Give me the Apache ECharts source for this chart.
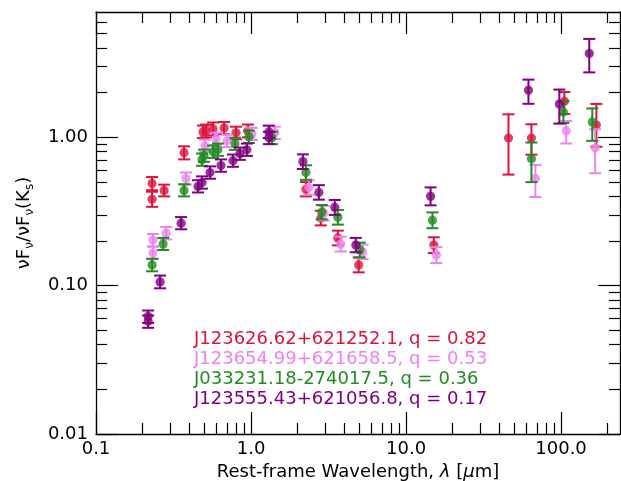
<!DOCTYPE html>
<html>
<head>
<meta charset="utf-8">
<script src="https://cdn.jsdelivr.net/npm/echarts@6/dist/echarts.min.js"></script>
<style>
  html, body { margin: 0; padding: 0; background: #fff; }
  #chart { width: 621px; height: 481px; }
</style>
</head>
<body>
<div id="chart"></div>
<script>
// Rest-frame SEDs normalised to Ks, four sources (wavelength in micron).
const crimsonLam = [0.23, 0.23, 0.275, 0.37, 0.49, 0.513, 0.569, 0.67, 0.80, 0.955, 2.26, 2.82, 3.63, 4.95, 15.1, 45.8, 64.4, 105, 169];
const crimsonVal = [0.489, 0.382, 0.439, 0.788, 1.088, 1.105, 1.14, 1.157, 1.072, 1.105, 0.446, 0.285, 0.21, 0.138, 0.188, 0.99, 0.99, 1.75, 1.21];
const crimsonLo  = [0.44, 0.34, 0.40, 0.71, 0.99, 1.00, 1.03, 1.05, 0.97, 1.00, 0.40, 0.255, 0.187, 0.123, 0.166, 0.561, 0.764, 1.436, 0.864];
const crimsonHi  = [0.54, 0.43, 0.48, 0.87, 1.20, 1.22, 1.26, 1.27, 1.18, 1.22, 0.50, 0.32, 0.235, 0.155, 0.212, 1.43, 1.225, 2.02, 1.68];

const violetLam = [0.233, 0.233, 0.2835, 0.381, 0.505, 0.594, 0.70, 1.013, 1.425, 2.36, 2.95, 3.79, 5.25, 15.7, 68.3, 108, 166];
const violetVal = [0.203, 0.166, 0.226, 0.528, 0.877, 0.977, 0.947, 1.055, 1.072, 0.459, 0.308, 0.191, 0.169, 0.161, 0.528, 1.105, 0.851];
const violetLo  = [0.184, 0.151, 0.205, 0.48, 0.80, 0.89, 0.86, 0.96, 0.975, 0.41, 0.275, 0.17, 0.151, 0.142, 0.396, 0.909, 0.573];
const violetHi  = [0.223, 0.183, 0.249, 0.58, 0.965, 1.075, 1.04, 1.16, 1.18, 0.514, 0.345, 0.214, 0.189, 0.182, 0.652, 1.29, 1.134];

const greenLam = [0.23, 0.271, 0.37, 0.483, 0.497, 0.569, 0.612, 0.788, 0.969, 1.364, 2.26, 2.86, 3.63, 5.03, 14.8, 64.4, 103.5, 159];
const greenVal = [0.138, 0.191, 0.439, 0.707, 0.752, 0.80, 0.825, 0.905, 1.008, 0.992, 0.579, 0.313, 0.289, 0.174, 0.276, 0.718, 1.48, 1.27];
const greenLo  = [0.125, 0.174, 0.40, 0.643, 0.684, 0.727, 0.75, 0.823, 0.916, 0.90, 0.517, 0.28, 0.258, 0.155, 0.244, 0.499, 1.25, 0.947];
const greenHi  = [0.152, 0.21, 0.483, 0.778, 0.827, 0.88, 0.908, 0.995, 1.11, 1.09, 0.648, 0.35, 0.324, 0.195, 0.312, 0.923, 1.754, 1.567];

const purpleLam = [0.217, 0.217, 0.259, 0.354, 0.455, 0.483, 0.544, 0.64, 0.765, 0.848, 0.941, 1.304, 1.304, 2.16, 2.74, 3.47, 4.74, 14.4, 61.6, 97.5, 152];
const purpleVal = [0.062, 0.0575, 0.106, 0.264, 0.467, 0.496, 0.579, 0.645, 0.696, 0.776, 0.825, 1.088, 0.992, 0.686, 0.425, 0.3375, 0.188, 0.40, 2.08, 1.675, 3.675];
const purpleLo  = [0.056, 0.052, 0.096, 0.24, 0.425, 0.451, 0.526, 0.586, 0.633, 0.705, 0.75, 0.99, 0.90, 0.612, 0.38, 0.30, 0.168, 0.348, 1.683, 1.237, 2.742];
const purpleHi  = [0.068, 0.063, 0.117, 0.29, 0.514, 0.546, 0.637, 0.71, 0.766, 0.854, 0.908, 1.2, 1.09, 0.768, 0.476, 0.378, 0.21, 0.46, 2.45, 2.10, 4.61];

const sourceNames = [
  'J123626.62+621252.1, q = 0.82',
  'J123654.99+621658.5, q = 0.53',
  'J033231.18-274017.5, q = 0.36',
  'J123555.43+621056.8, q = 0.17'
];

// Tick positions
const xMajor = [0.1, 1, 10, 100];
const xMinor = [0.2, 0.3, 0.4, 0.5, 0.6, 0.7, 0.8, 0.9, 2, 3, 4, 5, 6, 7, 8, 9, 20, 30, 40, 50, 60, 70, 80, 90, 200];
const yMajor = [0.01, 0.1, 1];
const yMinor = [0.02, 0.03, 0.04, 0.05, 0.06, 0.07, 0.08, 0.09, 0.2, 0.3, 0.4, 0.5, 0.6, 0.7, 0.8, 0.9, 2, 3, 4, 5, 6];

const X_MIN = 0.1, X_MAX = 240;
const Y_MIN = 0.01, Y_MAX = 7;

const FONT = '"DejaVu Sans", "Liberation Sans", sans-serif';
const colors = ['#DC143C', '#EE82EE', '#228B22', '#800080'];

function rows(lam, val, lo, hi) {
  return lam.map((l, i) => [l, val[i], lo[i], hi[i]]);
}
const seriesData = [
  rows(crimsonLam, crimsonVal, crimsonLo, crimsonHi),
  rows(violetLam, violetVal, violetLo, violetHi),
  rows(greenLam, greenVal, greenLo, greenHi),
  rows(purpleLam, purpleVal, purpleLo, purpleHi)
];

function errorBarRenderer(color) {
  return function (params, api) {
    const x = api.value(0), y = api.value(1), lo = api.value(2), hi = api.value(3);
    const p = api.coord([x, y]);
    const pl = api.coord([x, lo]);
    const ph = api.coord([x, hi]);
    const cap = 6;
    const lineStyle = { stroke: color, lineWidth: 2 };
    return {
      type: 'group',
      children: [
        { type: 'line', shape: { x1: p[0], y1: ph[1], x2: p[0], y2: pl[1] }, style: lineStyle, opacity: 0.9 },
        { type: 'line', shape: { x1: p[0] - cap, y1: ph[1], x2: p[0] + cap, y2: ph[1] }, style: lineStyle, opacity: 0.9 },
        { type: 'line', shape: { x1: p[0] - cap, y1: pl[1], x2: p[0] + cap, y2: pl[1] }, style: lineStyle, opacity: 0.9 },
        { type: 'circle', shape: { cx: p[0], cy: p[1], r: 4.6 }, style: { fill: color, opacity: 0.8 } }
      ]
    };
  };
}

function xAxisDef(position, major) {
  return {
    type: 'log', logBase: 10, min: X_MIN, max: X_MAX, position: position,
    gridIndex: 0,
    splitLine: { show: false },
    axisLine: { show: major, lineStyle: { color: '#000', width: 1.3 } },
    axisTick: {
      show: true, inside: true, length: major ? 22 : 11,
      customValues: major ? xMajor : xMinor,
      lineStyle: { color: '#000', width: 1.2 }
    },
    axisLabel: (major && position === 'bottom') ? {
      show: true, customValues: xMajor, margin: 6,
      formatter: v => Number(v).toFixed(1),
      fontSize: 18, fontFamily: FONT, color: '#000'
    } : { show: false },
    name: (major && position === 'bottom') ? 'Rest-frame Wavelength, {i|λ} [{i|μ}m]' : '',
    nameLocation: 'middle', nameGap: 25,
    nameTextStyle: {
      fontSize: 18, fontFamily: FONT, color: '#000',
      rich: { i: { fontSize: 18, fontFamily: FONT, color: '#000', fontStyle: 'italic' } }
    }
  };
}

function yAxisDef(position, major) {
  return {
    type: 'log', logBase: 10, min: Y_MIN, max: Y_MAX, position: position,
    gridIndex: 0,
    splitLine: { show: false },
    axisLine: { show: major, lineStyle: { color: '#000', width: 1.3 } },
    axisTick: {
      show: true, inside: true, length: major ? 22 : 11,
      customValues: major ? yMajor : yMinor,
      lineStyle: { color: '#000', width: 1.2 }
    },
    axisLabel: (major && position === 'left') ? {
      show: true, customValues: yMajor, margin: 8,
      formatter: v => Number(v).toFixed(2),
      fontSize: 18, fontFamily: FONT, color: '#000'
    } : { show: false },
    name: (major && position === 'left') ? '{m|νF}{s|ν}{m|/νF}{s|ν}{m|(K}{s|s}{m|)}' : '',
    nameLocation: 'middle', nameGap: 60,
    nameTextStyle: {
      fontFamily: FONT, color: '#000',
      rich: {
        m: { fontSize: 18, fontFamily: FONT, color: '#000', lineHeight: 24 },
        s: { fontSize: 12, fontFamily: FONT, color: '#000', lineHeight: 12, verticalAlign: 'bottom' }
      }
    }
  };
}

const chart = echarts.init(document.getElementById('chart'), null, { renderer: 'canvas' });
chart.setOption({
  animation: false,
  backgroundColor: '#fff',
  grid: { left: 96, top: 12, right: 1, bottom: 47, containLabel: false, outerBoundsMode: 'none' },
  xAxis: [
    xAxisDef('bottom', true), xAxisDef('bottom', false),
    xAxisDef('top', true), xAxisDef('top', false)
  ],
  yAxis: [
    yAxisDef('left', true), yAxisDef('left', false),
    yAxisDef('right', true), yAxisDef('right', false)
  ],
  series: seriesData.map((d, i) => ({
    type: 'custom',
    name: sourceNames[i],
    xAxisIndex: 0, yAxisIndex: 0,
    data: d,
    encode: { x: 0, y: 1 },
    renderItem: errorBarRenderer(colors[i]),
    clip: true,
    z: 2 + i
  })),
  graphic: sourceNames.map((t, i) => ({
    type: 'text',
    left: 194,
    top: 330 + 20 * i,
    style: { text: t, fill: colors[i], fontSize: 18, fontFamily: FONT },
    z: 10
  }))
});
</script>
</body>
</html>
